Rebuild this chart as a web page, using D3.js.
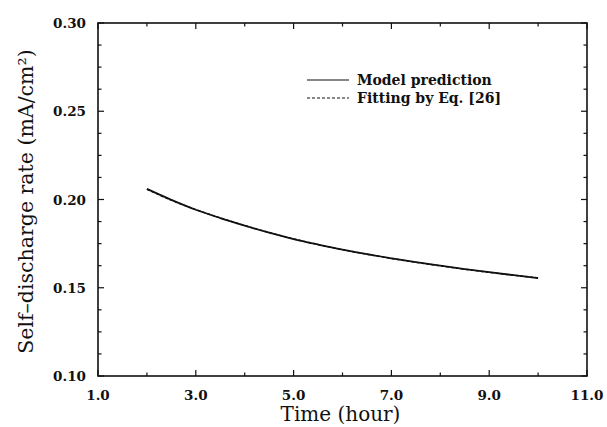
<!DOCTYPE html>
<html>
<head>
<meta charset="utf-8">
<script src="https://cdn.jsdelivr.net/npm/d3@7"></script>
<style>
  body { margin: 0; background: #fff; }
  svg text { fill: #111; }
</style>
</head>
<body>
<div id="chart"></div>
<script>
// Data
const hours = [2.0, 2.5, 3.0, 3.5, 4.0, 4.5, 5.0, 5.5, 6.0, 6.5, 7.0, 7.5, 8.0, 8.5, 9.0, 9.5, 10.0];
const modelRate = [0.2060, 0.1998, 0.1942, 0.1895, 0.1852, 0.1812, 0.1776, 0.1745, 0.1716, 0.1690, 0.1667, 0.1645, 0.1625, 0.1606, 0.1588, 0.1571, 0.1555];
const fitRate   = [0.2058, 0.1996, 0.1943, 0.1896, 0.1853, 0.1813, 0.1777, 0.1745, 0.1716, 0.1690, 0.1666, 0.1644, 0.1624, 0.1605, 0.1587, 0.1571, 0.1556];
const xTicks = [1, 3, 5, 7, 9, 11];
const yTicks = [0.10, 0.15, 0.20, 0.25, 0.30];
const legendItems = [
  { label: 'Model prediction', dash: null },
  { label: 'Fitting by Eq. [26]', dash: '3,2' }
];

const W = 607, H = 427;
const margin = { top: 23, right: 20, bottom: 51, left: 98 };
const width = W - margin.left - margin.right;
const height = H - margin.top - margin.bottom;

const svg = d3.select('#chart').append('svg')
  .attr('width', W).attr('height', H);
const g = svg.append('g')
  .attr('transform', `translate(${margin.left},${margin.top})`);

const x = d3.scaleLinear().domain([1, 11]).range([0, width]);
const y = d3.scaleLinear().domain([0.10, 0.30]).range([height, 0]);

// frame
g.append('rect')
  .attr('width', width).attr('height', height)
  .attr('fill', 'none').attr('stroke', '#111').attr('stroke-width', 1.6);

// ticks (inward, all four sides)
const xMinor = d3.range(2, 11, 2);
const yMinor = d3.range(0.1125, 0.30, 0.0125).filter(v => Math.abs((v * 400) % 20) > 0.5 && Math.abs((v * 400) % 20 - 20) > 0.5);
const tickStroke = sel => sel.attr('stroke', '#111').attr('stroke-width', 1.2);

[[xTicks, 6], [xMinor, 3.5]].forEach(([vals, len]) => {
  g.selectAll(null).data(vals).enter().append('line')
    .attr('x1', d => x(d)).attr('x2', d => x(d))
    .attr('y1', height).attr('y2', height - len).call(tickStroke);
  g.selectAll(null).data(vals).enter().append('line')
    .attr('x1', d => x(d)).attr('x2', d => x(d))
    .attr('y1', 0).attr('y2', len).call(tickStroke);
});
[[yTicks, 6], [yMinor, 3.5]].forEach(([vals, len]) => {
  g.selectAll(null).data(vals).enter().append('line')
    .attr('y1', d => y(d)).attr('y2', d => y(d))
    .attr('x1', 0).attr('x2', len).call(tickStroke);
  g.selectAll(null).data(vals).enter().append('line')
    .attr('y1', d => y(d)).attr('y2', d => y(d))
    .attr('x1', width).attr('x2', width - len).call(tickStroke);
});

// tick labels
const tickFont = sel => sel
  .style('font-family', '"DejaVu Serif", "Liberation Serif", serif')
  .style('font-weight', 'bold')
  .style('font-size', '13.5px');

g.selectAll('.xlab').data(xTicks).enter().append('text')
  .attr('x', d => x(d)).attr('y', height + 24)
  .attr('text-anchor', 'middle')
  .call(tickFont)
  .text(d => d.toFixed(1));

g.selectAll('.ylab').data(yTicks).enter().append('text')
  .attr('x', -12).attr('y', d => y(d) + 5)
  .attr('text-anchor', 'end')
  .call(tickFont)
  .text(d => d.toFixed(2));

// axis titles
const titleFont = sel => sel
  .style('font-family', '"DejaVu Serif", "Liberation Serif", serif')
  .style('font-size', '20px');

g.append('text')
  .attr('x', width / 2 - 2).attr('y', height + 45)
  .attr('text-anchor', 'middle')
  .call(titleFont)
  .text('Time (hour)');

g.append('text')
  .attr('transform', `translate(${-margin.left + 33},${height / 2 + 2}) rotate(-90)`)
  .attr('text-anchor', 'middle')
  .call(titleFont)
  .style('font-size', '20.5px')
  .text('Self\u2013discharge rate (mA/cm\u00B2)');

// curves
const line = d3.line().x(d => x(d[0])).y(d => y(d[1])).curve(d3.curveMonotoneX);

g.append('path')
  .datum(hours.map((h, i) => [h, modelRate[i]]))
  .attr('fill', 'none').attr('stroke', '#111').attr('stroke-width', 1.8)
  .attr('d', line);

g.append('path')
  .datum(hours.map((h, i) => [h, fitRate[i]]))
  .attr('fill', 'none').attr('stroke', '#111').attr('stroke-width', 1.4)
  .attr('stroke-dasharray', '3,2')
  .attr('d', line);

// legend
const legend = g.append('g').attr('transform', 'translate(209,57)');
legendItems.forEach((item, i) => {
  const row = legend.append('g').attr('transform', `translate(0,${i * 18})`);
  row.append('line')
    .attr('x1', 0).attr('x2', 42)
    .attr('stroke', '#111').attr('stroke-width', 1.2)
    .attr('stroke-dasharray', item.dash);
  row.append('text')
    .attr('x', 50).attr('y', 5)
    .style('font-family', '"DejaVu Serif", "Liberation Serif", serif')
    .style('font-weight', 'bold')
    .style('font-size', '14px')
    .text(item.label);
});
</script>
</body>
</html>
